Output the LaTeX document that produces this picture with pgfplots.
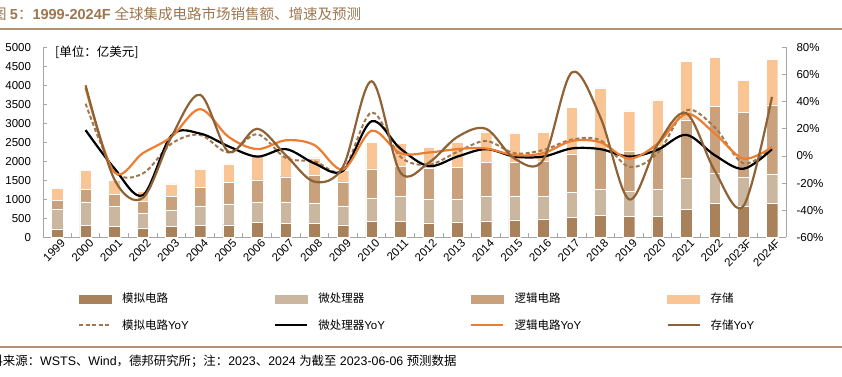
\documentclass[border=0pt]{standalone}
\usepackage{fontspec}
\setmainfont{Liberation Sans}
\newfontfamily\cjk{Noto Sans CJK SC}
\usepackage{pgfplots}
\usepackage{pgfplotstable}
\pgfplotsset{compat=1.18}
\definecolor{anac}{HTML}{A9825B}
\definecolor{micc}{HTML}{CBB79F}
\definecolor{logc}{HTML}{C9A27D}
\definecolor{memc}{HTML}{F9C594}
\definecolor{anal}{HTML}{A07850}
\definecolor{meml}{HTML}{8F6236}
\definecolor{orgl}{HTML}{ED7D31}
\definecolor{titlec}{HTML}{9C7650}
\definecolor{rulec}{HTML}{B39273}
\definecolor{axc}{HTML}{A6A6A6}

\pgfplotstableread{
x analog micro logic memory
0 219 518 228 324
1 307 623 333 500
2 281 544 298 377
3 254 386 299 280
4 281 438 351 334
5 316 509 482 482
6 333 544 562 491
7 386 544 579 631
8 360 570 666 571
9 360 544 719 473
10 325 500 631 324
11 421 614 763 693
12 412 676 772 614
13 377 623 807 561
14 404 605 833 667
15 430 658 886 798
16 456 632 877 781
17 482 606 903 781
18 526 654 1017 1228
19 596 667 1067 1600
20 544 667 1052 1062
21 553 710 1123 1228
22 737 824 1527 1535
23 886 807 1746 1298
24 833 737 1711 842
25 886 781 1815 1211
}\bardata

\pgfplotstableread{
x analog micro logic memory
1 38.5 19 50 52
2 -11 -9 -12 -17
3 -13 -29 2 -31
4 9 15 14 14
5 15.5 16.5 34.5 45
6 2.5 7 14 3
7 16 -0.5 5 20
8 -1.5 5 11.5 0.5
9 -4 -5.5 8 -19
10 -10.5 -11 -10 -8
11 32 25.5 18.5 55
12 -0.5 5.5 2 -12
13 -6.5 -7.5 2.5 -5
14 3 -0.5 5 14
15 11 5 5.5 20
16 2 -0.5 0.5 -2
17 4.3 -0.5 2 -3
18 12 5.5 11 61.5
19 11.5 5 10 28.5
20 -8 -0.5 -2 -32
21 2 4.5 9 8.5
22 33.5 15.5 31 31.5
23 21 0.5 16.5 -11
24 -5.5 -9.5 -2 -37
25 6.5 5 6.5 43.5
}\yoydata

\begin{document}
\begin{tikzpicture}[x=1pt,y=1pt]
\clip (0,0) rectangle (842,376);
\path[use as bounding box] (0,0) rectangle (842,376);

\node[anchor=west, text=titlec, inner sep=0, font=\bfseries\fontsize{14.5}{15}\selectfont] at (-8,362)
  {{\cjk\mdseries 图 }5{\cjk\mdseries ：}1999-2024F {\cjk\mdseries 全球集成电路市场销售额、增速及预测}};
\draw[rulec, line width=1.3pt] (0,347) -- (842,347);
\draw[rulec, line width=1.3pt] (0,29) -- (842,29);
\node[anchor=west, inner sep=0, font=\fontsize{12.4}{12.5}\selectfont] at (-22,15)
  {{\cjk 资料来源：}WSTS{\cjk 、}Wind{\cjk ，德邦研究所；注：}2023{\cjk 、}2024 {\cjk 为截至} 2023-06-06 {\cjk 预测数据}};
\node[anchor=west, inner sep=0, font=\fontsize{12.5}{13}\selectfont] at (55pt,324pt) {{\cjk [单位：亿美元]}};

\begin{axis}[
  at={(57pt,138.7pt)}, anchor=origin, scale only axis,
  width=743pt, height=190pt,
  xmin=-0.49, xmax=25.49, ymin=0, ymax=5000,
  ybar stacked, bar width=11.5pt,
  axis y line*=left, axis x line*=bottom,
  axis line style={axc, line width=0.8pt},
  tick style={axc, line width=0.8pt},
  tick align=inside, major tick length=4pt, minor tick length=4pt,
  xtick={0,...,25},
  xticklabels={1999,2000,2001,2002,2003,2004,2005,2006,2007,2008,2009,2010,2011,2012,2013,2014,2015,2016,2017,2018,2019,2020,2021,2022,2023F,2024F},
  minor x tick num=1,
  every major x tick/.style={draw=none},
  xticklabel style={rotate=45, anchor=north east, inner sep=0, xshift=1.5pt, yshift=-3pt, font=\fontsize{11.5}{12}\selectfont},
  ytick={0,500,...,5000},
  yticklabel style={font=\fontsize{11.5}{12}\selectfont, xshift=-8.5pt},
  /pgf/number format/assume math mode=true,
  /pgf/number format/1000 sep={},
  scaled y ticks=false,
  legend columns=4,
  legend style={at={(0.047,-0.283)}, anchor=north west, draw=none, fill=none, inner sep=0pt,
    font=\fontsize{11.5}{12}\selectfont, row sep=11pt, column sep=0pt,
    /tikz/every odd column/.append style={column sep=8pt}},
  legend cell align=left,
]
\addplot+[draw=white, line width=0.3pt, fill=anac, legend image code/.code={\fill[anac] (0pt,-4pt) rectangle (32pt,4pt);}] table[x=x,y=analog] {\bardata};
\addplot+[draw=white, line width=0.3pt, fill=micc, legend image code/.code={\fill[micc] (0pt,-4pt) rectangle (32pt,4pt);}] table[x=x,y=micro] {\bardata};
\addplot+[draw=white, line width=0.3pt, fill=logc, legend image code/.code={\fill[logc] (0pt,-4pt) rectangle (32pt,4pt);}] table[x=x,y=logic] {\bardata};
\addplot+[draw=white, line width=0.3pt, fill=memc, legend image code/.code={\fill[memc] (0pt,-4pt) rectangle (32pt,4pt);}] table[x=x,y=memory] {\bardata};
\addlegendimage{legend image code/.code={\draw[anal, line width=2pt, dash pattern=on 4pt off 2.5pt] (0pt,0pt) -- (32pt,0pt);}}
\addlegendimage{legend image code/.code={\draw[black, line width=2.2pt] (0pt,0pt) -- (32pt,0pt);}}
\addlegendimage{legend image code/.code={\draw[orgl, line width=2.2pt] (0pt,0pt) -- (32pt,0pt);}}
\addlegendimage{legend image code/.code={\draw[meml, line width=2.2pt] (0pt,0pt) -- (32pt,0pt);}}
\legend{\makebox[150pt][l]{\cjk 模拟电路},\makebox[150pt][l]{\cjk 微处理器},\makebox[150pt][l]{\cjk 逻辑电路},\makebox[150pt][l]{\cjk 存储},
\makebox[150pt][l]{{\cjk 模拟电路}YoY},\makebox[150pt][l]{{\cjk 微处理器}YoY},\makebox[150pt][l]{{\cjk 逻辑电路}YoY},\makebox[150pt][l]{{\cjk 存储}YoY}}
\end{axis}

\begin{axis}[
  at={(57pt,220.1pt)}, anchor=origin, scale only axis,
  width=743pt, height=190pt,
  xmin=-0.49, xmax=25.49, ymin=-60, ymax=80,
  axis y line*=right, axis x line=none,
  axis line style={axc, line width=0.8pt},
  tick style={axc, line width=0.8pt},
  tick align=inside, major tick length=4pt,
  ytick={-60,-40,...,80},
  yticklabel={\pgfmathprintnumber{\tick}\%},
  yticklabel style={font=\fontsize{11.5}{12}\selectfont, xshift=7pt},
  /pgf/number format/assume math mode=true,
]
\addplot[anal, line width=2pt, dash pattern=on 4pt off 2.5pt, smooth, tension=0.55] table[x=x,y=analog] {\yoydata};
\addplot[black, line width=2.2pt, smooth, tension=0.55] table[x=x,y=micro] {\yoydata};
\addplot[orgl, line width=2.2pt, smooth, tension=0.55] table[x=x,y=logic] {\yoydata};
\addplot[meml, line width=2.2pt, smooth, tension=0.55] table[x=x,y=memory] {\yoydata};
\end{axis}
\end{tikzpicture}
\end{document}
